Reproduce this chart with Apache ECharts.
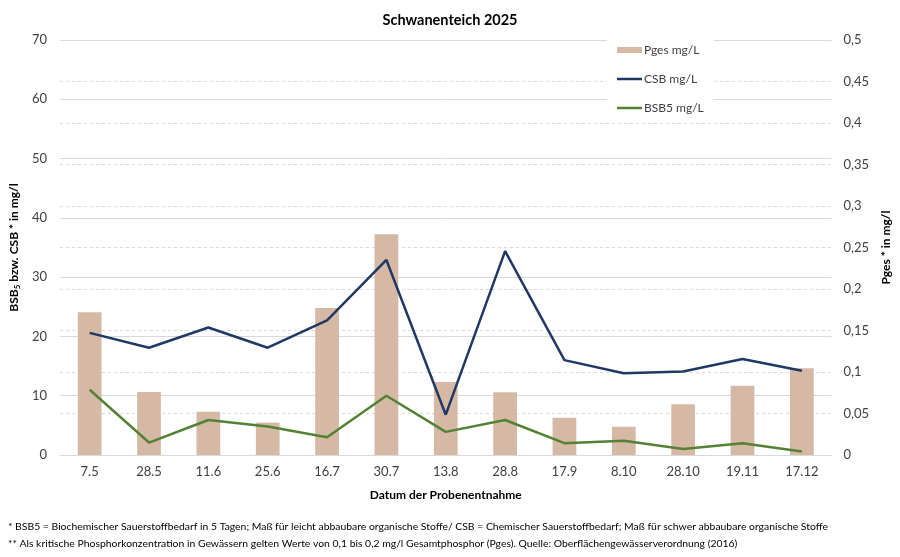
<!DOCTYPE html>
<html>
<head>
<meta charset="utf-8">
<script src="https://cdn.jsdelivr.net/npm/echarts@6/dist/echarts.min.js"></script>
<style>
html,body{margin:0;padding:0;background:#fff;}
#chart{width:900px;height:557px;}
</style>
</head>
<body>
<div id="chart"></div>
<script>
const categories = ['7.5','28.5','11.6','25.6','16.7','30.7','13.8','28.8','17.9','8.10','28.10','19.11','17.12'];
const pges = [0.172,0.076,0.052,0.039,0.177,0.266,0.088,0.0755,0.045,0.034,0.061,0.0835,0.1045];
const csb = [20.6,18.1,21.5,18.1,22.7,32.9,6.8,34.4,16.0,13.8,14.1,16.2,14.2];
const bsb5 = [11.0,2.1,5.9,4.8,3.0,10.0,3.9,5.9,2.0,2.4,1.0,2.0,0.6];
const leftTicks = {min:0, max:70, interval:10};
const rightTicks = {min:0, max:0.5, interval:0.05};

const FONT = 'Lato';
const lineIcon = 'path://M0,0L25,0L25,2.5L0,2.5Z';
const chart = echarts.init(document.getElementById('chart'));
chart.setOption({
  backgroundColor:'#fff',
  textStyle:{fontFamily:FONT},
  title:{
    text:'Schwanenteich 2025', left:'center', top:8,
    textStyle:{fontFamily:FONT, fontSize:14.5, fontWeight:'bold', color:'#000'}
  },
  legend:{
    orient:'vertical', left:607, top:38,
    backgroundColor:'#fff', padding:[6,10,6,10],
    itemWidth:25, itemHeight:6, itemGap:17,
    textStyle:{fontFamily:FONT, fontSize:12, color:'#404040', padding:[0,0,0,-3]},
    data:[
      {name:'Pges mg/L', icon:'rect'},
      {name:'CSB mg/L', icon:lineIcon},
      {name:'BSB5 mg/L', icon:lineIcon}
    ]
  },
  grid:{left:56, right:64, top:40, bottom:102, containLabel:false},
  xAxis:{
    type:'category', data:categories,
    name:'Datum der Probenentnahme', nameLocation:'middle', nameGap:34,
    nameTextStyle:{fontFamily:FONT, fontSize:12, fontWeight:'bold', color:'#000'},
    axisLine:{show:true, lineStyle:{color:'#d9d9d9'}},
    axisTick:{show:false},
    axisLabel:{fontFamily:FONT, fontSize:13, color:'#404040', margin:10}
  },
  yAxis:[
    {
      type:'value', min:leftTicks.min, max:leftTicks.max, interval:leftTicks.interval,
      name:'{a|BSB}{s|5}{a| bzw. CSB * in mg/l}', nameLocation:'middle', nameRotate:90, nameGap:36,
      nameTextStyle:{rich:{
        a:{fontFamily:FONT, fontSize:12, fontWeight:'bold', color:'#000'},
        s:{fontFamily:FONT, fontSize:8, fontWeight:'bold', color:'#000', verticalAlign:'bottom', padding:[6,0,0,0]}
      }},
      axisLine:{show:false}, axisTick:{show:false},
      axisLabel:{fontFamily:FONT, fontSize:13, color:'#404040', margin:13},
      splitLine:{show:true, lineStyle:{color:'#d9d9d9', width:1}}
    },
    {
      type:'value', min:rightTicks.min, max:rightTicks.max, interval:rightTicks.interval,
      position:'right',
      name:'Pges * in mg/l', nameLocation:'middle', nameRotate:90, nameGap:38,
      nameTextStyle:{fontFamily:FONT, fontSize:12, fontWeight:'bold', color:'#000'},
      axisLine:{show:false}, axisTick:{show:false},
      axisLabel:{fontFamily:FONT, fontSize:13, color:'#404040', margin:12,
        formatter:v=>String(+v.toFixed(2)).replace('.',',')},
      splitLine:{show:true, lineStyle:{color:'#d9d9d9', width:1, type:[3,3]}}
    }
  ],
  series:[
    {name:'Pges mg/L', type:'bar', yAxisIndex:1, data:pges, barWidth:'40%',
      itemStyle:{color:'#d5b9a5'}, z:1},
    {name:'CSB mg/L', type:'line', yAxisIndex:0, data:csb, symbol:'none',
      lineStyle:{color:'#203864', width:2.5}, itemStyle:{color:'#203864'}, z:3},
    {name:'BSB5 mg/L', type:'line', yAxisIndex:0, data:bsb5, symbol:'none',
      lineStyle:{color:'#548235', width:2.5}, itemStyle:{color:'#548235'}, z:3}
  ],
  graphic:[
    {type:'text', left:8, top:522, style:{
      text:'* BSB5 = Biochemischer Sauerstoffbedarf in 5 Tagen; Maß für leicht abbaubare organische Stoffe/ CSB = Chemischer Sauerstoffbedarf; Maß für schwer abbaubare organische Stoffe',
      font:'10.4px Lato', fill:'#000'}},
    {type:'text', left:8, top:539, style:{
      text:'** Als kritische Phosphorkonzentration in Gewässern gelten Werte von 0,1 bis 0,2 mg/l Gesamtphosphor (Pges). Quelle: Oberflächengewässerverordnung (2016)',
      font:'10.4px Lato', fill:'#000'}}
  ]
});
</script>
</body>
</html>
